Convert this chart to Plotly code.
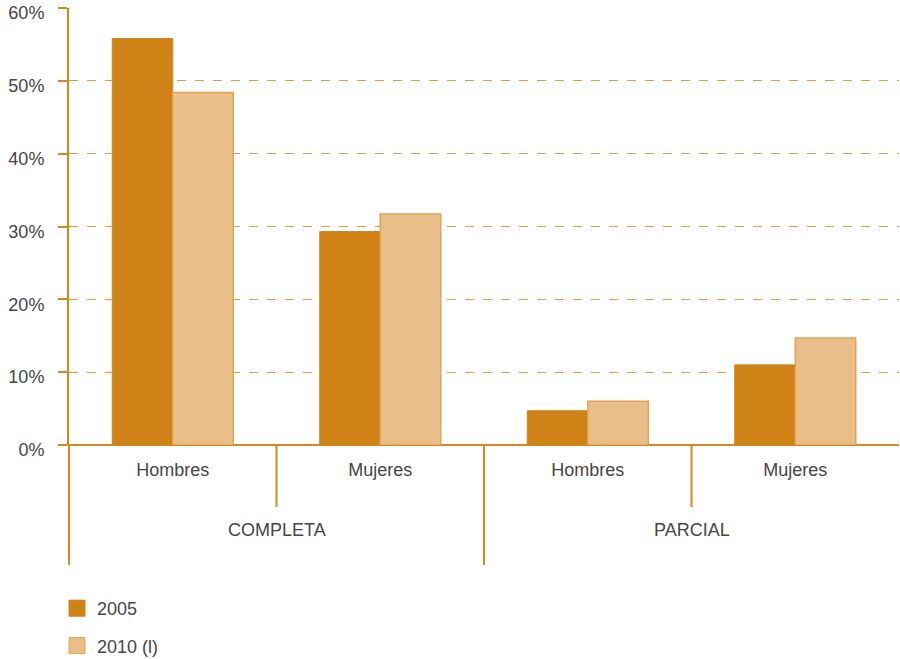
import plotly.graph_objects as go

groups = ["COMPLETA", "COMPLETA", "PARCIAL", "PARCIAL"]
sexes = ["Hombres", "Mujeres", "Hombres", "Mujeres"]
outer_labels = ["COMPLETA", "PARCIAL"]
series_names = ["2005", "2010 (l)"]
values_2005 = [55.8, 29.3, 4.7, 11.0]
values_2010 = [48.4, 31.7, 6.0, 14.7]
y_ticks = [0, 10, 20, 30, 40, 50, 60]
y_ticktext = ["0%", "10%", "20%", "30%", "40%", "50%", "60%"]

keys = [g + "|" + s for g, s in zip(groups, sexes)]

AXIS = "#D4881F"
GRID = "#E09C45"
C2005 = "#CF8216"
C2010 = "#E9BE88"
B2010 = "#E0A355"
TEXT = "#454545"
FONT = "Liberation Sans"
FS = 18

fig = go.Figure()
fig.add_bar(x=keys, y=values_2005, name=series_names[0], showlegend=False,
            marker=dict(color=C2005, line=dict(color=C2005, width=1)))
fig.add_bar(x=keys, y=values_2010, name=series_names[1], showlegend=False,
            marker=dict(color=C2010, line=dict(color=B2010, width=1.5)))

# legend entries (larger square swatches)
fig.add_scatter(x=[None], y=[None], mode="markers", name=series_names[0],
                legendgroup="a",
                marker=dict(symbol="square", size=16, color=C2005,
                            line=dict(color=C2005, width=1)))
fig.add_scatter(x=[None], y=[None], mode="markers", name=series_names[1],
                legendgroup="b",
                marker=dict(symbol="square", size=16, color=C2010,
                            line=dict(color=B2010, width=1)))

fig.update_layout(
    width=900, height=659,
    margin=dict(l=69, r=1, t=8, b=214, autoexpand=False),
    plot_bgcolor="white", paper_bgcolor="white",
    barmode="group", bargap=0.417, bargroupgap=0,
    font=dict(family=FONT, size=FS, color=TEXT),
    showlegend=True,
    legend=dict(x=57 / 900, xref="container", y=0.1047, yref="container",
                xanchor="left", yanchor="top",
                orientation="v", font=dict(size=FS, color=TEXT),
                tracegroupgap=11, itemwidth=30),
)

fig.update_xaxes(
    type="category", categoryorder="array", categoryarray=keys,
    tickvals=keys, ticktext=sexes, range=[-0.5, 3.5],
    showline=False, ticks="", showgrid=False, zeroline=False,
    tickfont=dict(size=FS, color=TEXT), ticklabelstandoff=12,
    automargin=False,
)
fig.update_yaxes(
    range=[0, 60], tickvals=y_ticks, ticktext=y_ticktext,
    showline=True, linecolor=AXIS, linewidth=2,
    ticks="outside", tickcolor=AXIS, ticklen=9, tickwidth=2,
    showgrid=True, gridcolor=GRID, griddash="dash", gridwidth=1,
    zeroline=True, zerolinecolor=AXIS, zerolinewidth=2,
    tickfont=dict(size=FS, color=TEXT), ticklabelstandoff=10,
    ticklabelshift=5,
    ticklabeloverflow="allow", automargin=False,
)

# axis extensions and category dividers
shapes = [
    dict(type="line", xref="paper", yref="paper", x0=0, x1=0, y0=0, y1=-0.2746,
         line=dict(color=AXIS, width=2)),
    dict(type="line", xref="x", yref="paper", x0=0.5, x1=0.5, y0=0, y1=-0.142,
         line=dict(color=AXIS, width=2)),
    dict(type="line", xref="x", yref="paper", x0=2.5, x1=2.5, y0=0, y1=-0.142,
         line=dict(color=AXIS, width=2)),
    dict(type="line", xref="x", yref="paper", x0=1.5, x1=1.5, y0=0, y1=-0.2746,
         line=dict(color=AXIS, width=2)),
]
fig.update_layout(shapes=shapes)

for i, lab in enumerate(outer_labels):
    fig.add_annotation(x=0.5 + 2 * i, xref="x", y=-0.195, yref="paper",
                       text=lab, showarrow=False, yanchor="middle",
                       font=dict(size=FS, color=TEXT))

fig.write_html("out.html", config={"displayModeBar": False},
               post_script="document.body.style.margin='0';")
